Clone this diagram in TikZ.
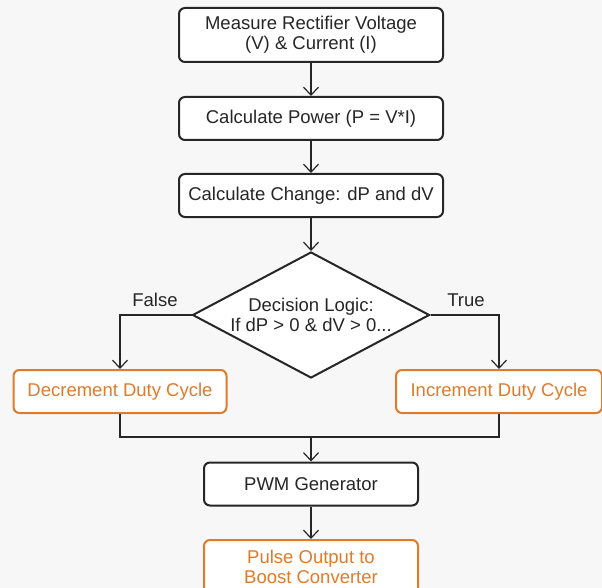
\documentclass[tikz,border=0pt]{standalone}
\usepackage{fontspec}
\setmainfont{Liberation Sans}
\usetikzlibrary{shapes.geometric,arrows.meta}
\definecolor{ink}{HTML}{262626}
\definecolor{orng}{HTML}{E07B2A}
\definecolor{bg}{HTML}{F7F7F7}
\tikzset{
  box/.style={draw=ink, line width=2pt, rounded corners=6pt, fill=white, text=ink, align=center, minimum width=264pt, minimum height=43pt, inner sep=0pt, font=\fontsize{18.5}{20}\selectfont},
  obox/.style={box, draw=orng, text=orng},
  conn/.style={draw=ink, line width=1.2pt, -{Straight Barb[length=8pt,width=15pt,line width=1.2pt]}},
  line/.style={draw=ink, line width=1.2pt},
  lbl/.style={text=ink, font=\fontsize{18.5}{20}\selectfont, inner sep=0pt}
}
\begin{document}
\begin{tikzpicture}[x=1pt,y=-1pt]
\useasboundingbox[fill=bg] (0,0) rectangle (602,588);
\begin{scope}
\clip (0,0) rectangle (602,588);
\node[box, minimum height=54pt] (m) at (311,35) {Measure Rectifier Voltage\\(V) \& Current (I)};
\node[box] (p) at (311,118.5) {Calculate Power (P = V*I)};
\node[box] (c) at (311,195.5) {Calculate Change: dP and dV};
\node[diamond, draw=ink, line width=2pt, fill=white, minimum width=237pt, minimum height=126pt, inner sep=0pt, aspect=1.88] (d) at (311,315) {};
\node[lbl, align=center] (dt) at (311,315) {Decision Logic:\\If dP > 0 \& dV > 0...};
\node[obox, minimum width=213pt] (dec) at (120,391.5) {Decrement Duty Cycle};
\node[obox, minimum width=206pt] (inc) at (499,391.5) {Increment Duty Cycle};
\node[box, minimum width=214pt] (pwm) at (311,484) {PWM Generator};
\node[obox, minimum width=214pt, minimum height=54pt] (out) at (311,567) {Pulse Output to\\Boost Converter};
\node[lbl] (f) at (155,300) {False};
\node[lbl] (t) at (466,300) {True};
\coordinate (j) at (311,437);
\draw[conn] (m) -- (p);
\draw[conn] (p) -- (c);
\draw[conn] (c) -- (d.north);
\draw[conn] (d.west) -| (dec.north);
\draw[conn] (d.east) -| (inc.north);
\draw[line] (dec.south) |- (j);
\draw[line] (inc.south) |- (j);
\draw[conn] (j) -- (pwm.north);
\draw[conn] (pwm) -- (out.north);
\end{scope}
\end{tikzpicture}
\end{document}
